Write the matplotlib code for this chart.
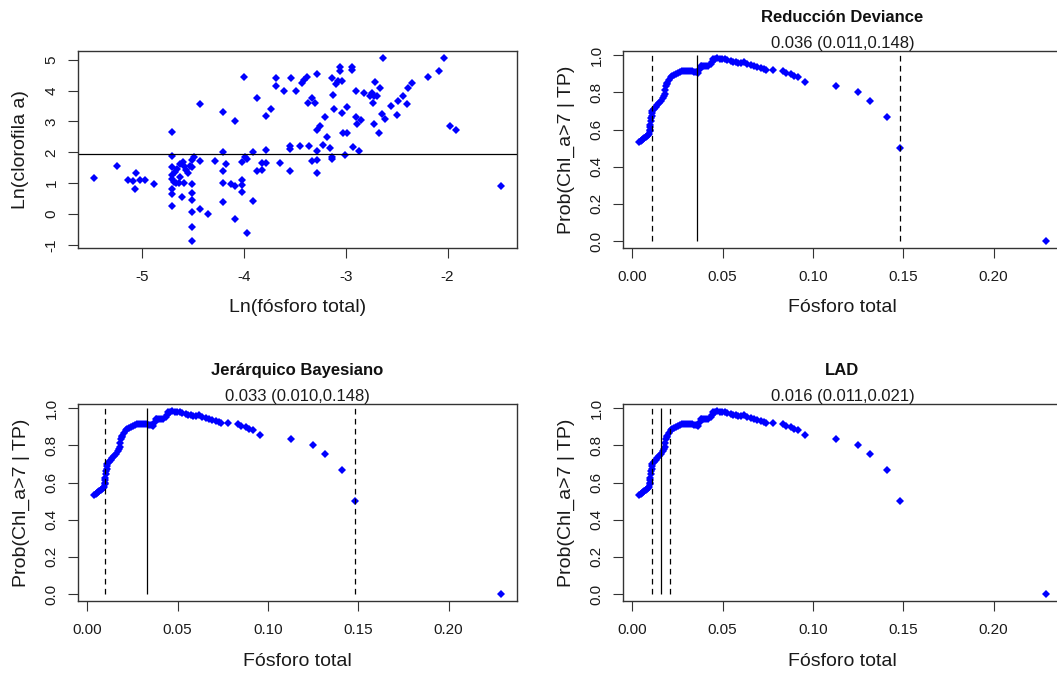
import matplotlib
matplotlib.use("Agg")
import matplotlib.pyplot as plt

plt.rcParams['font.family'] = ['Liberation Sans', 'DejaVu Sans']

# ---------------- data: scatter Ln(TP) vs Ln(chlorophyll a) ----------------
ln_tp = [-5.47, -5.25, -5.14, -5.09, -5.06, -5.07, -5.02, -4.97, -4.88,
         -4.71, -4.71, -4.71, -4.71, -4.71, -4.71, -4.71, -4.71,
         -4.69, -4.67, -4.64, -4.59, -4.68, -4.66, -4.625, -4.60, -4.59,
         -4.57, -4.55, -4.53, -4.51, -4.51, -4.49, -4.625, -4.61,
         -4.51, -4.51, -4.51, -4.51, -4.51, -4.51,
         -4.43, -4.43, -4.43, -4.35, -4.28, -4.21, -4.21, -4.21, -4.21, -4.21,
         -4.18, -4.13, -4.085, -4.085, -4.085, -4.02, -4.02, -4.02, -4.00,
         -4.02, -3.99, -3.97, -3.97, -3.915, -3.915, -3.87, -3.87, -3.82,
         -3.82, -3.78, -3.78, -3.735, -3.78, -3.68, -3.68, -3.65, -3.61,
         -3.55, -3.55, -3.55, -3.54, -3.49, -3.45, -3.43, -3.41, -3.38,
         -3.36, -3.37, -3.33, -3.30, -3.28, -3.28, -3.28, -3.33, -3.28, -3.28,
         -3.252, -3.203, -3.225, -3.18, -3.154, -3.137, -3.131, -3.137, -3.121,
         -3.111, -3.095, -3.072, -3.039, -3.056, -3.056, -3.039, -3.029, -2.990,
         -3.006, -2.983, -2.94, -2.94, -2.924, -2.898, -2.898, -2.885, -2.849,
         -2.865, -2.816, -2.761, -2.745, -2.722, -2.729, -2.722, -2.712, -2.663,
         -2.689, -2.669, -2.646, -2.63, -2.613, -2.558, -2.493, -2.483, -2.441,
         -2.395, -2.386, -2.353, -2.19, -2.082, -2.033, -1.971, -1.919, -1.477]
ln_chl = [1.18, 1.56, 1.11, 1.08, 1.34, 0.80, 1.10, 1.11, 0.97,
          2.66, 1.87, 1.53, 1.28, 1.15, 0.80, 0.645, 0.27,
          1.04, 1.01, 1.01, 1.01, 1.37, 1.47, 1.63, 1.69, 1.55,
          1.42, 1.33, 1.55, 1.53, 1.76, 1.85, 1.20, 0.56,
          0.97, 0.69, 0.45, 0.075, -0.41, -0.86,
          3.56, 1.72, 0.16, 0.00, 1.72, 3.29, 2.01, 1.39, 1.01, 0.38,
          1.62, 0.99, 3.01, 0.90, -0.16, 1.12, 0.935, 0.72, 4.43,
          1.69, 1.85, 1.80, -0.61, 0.42, 2.01, 3.76, 1.39, 1.42,
          1.66, 1.66, 3.17, 3.39, 2.075, 4.39, 4.14, 1.66, 4.00,
          1.39, 2.215, 2.10, 4.39, 3.97, 2.215, 4.25, 4.355, 4.43,
          2.215, 3.60, 3.76, 3.60, 4.52, 2.71, 2.03, 1.72, 1.76, 1.34,
          2.839, 3.14, 2.247, 2.484, 2.14, 1.849, 1.785, 4.41, 3.871,
          3.409, 4.215, 4.323, 4.30, 4.645, 4.753, 3.28, 2.624, 2.624,
          1.925, 3.462, 4.753, 4.677, 2.172, 4.00, 3.14, 2.903, 3.032,
          2.043, 3.914, 3.839, 3.914, 3.839, 3.591, 2.903, 4.269, 4.075,
          3.839, 2.635, 3.247, 5.043, 3.065, 3.484, 3.215, 3.656, 3.839,
          3.570, 4.075, 4.237, 4.452, 4.624, 5.043, 2.839, 2.731, 0.903]
chl_threshold = 1.94

# ---------------- data: probability curve P(Chl_a>7 | TP) ----------------
tp = [0.0038, 0.0045, 0.0051, 0.0058, 0.0065, 0.0073, 0.0080, 0.0087, 0.0093,
      0.0097, 0.0099, 0.0095, 0.0099, 0.0102, 0.0105, 0.0108, 0.0110, 0.0111,
      0.0120, 0.0130, 0.0139, 0.0148, 0.0157, 0.0167, 0.0174, 0.0180, 0.0182,
      0.0185, 0.0190, 0.0194, 0.0203, 0.0213, 0.0222, 0.0231, 0.0242, 0.0253,
      0.0265, 0.0277, 0.0288, 0.0299, 0.0310, 0.0320, 0.0331, 0.0342, 0.0353,
      0.0364, 0.0372, 0.0379, 0.0388, 0.0397, 0.0408, 0.0419, 0.0434, 0.0441,
      0.0449, 0.0460, 0.0471, 0.0485, 0.0498, 0.0512, 0.0526, 0.0545, 0.0558,
      0.0572, 0.0586, 0.0600, 0.0618, 0.0636, 0.0655, 0.0673, 0.0692, 0.0710,
      0.0729, 0.0738, 0.0778, 0.0832, 0.0848, 0.0880, 0.0896, 0.0915, 0.0955,
      0.1126, 0.1251, 0.1316, 0.1410, 0.1480, 0.2289]
prob = [0.535, 0.540, 0.544, 0.550, 0.555, 0.562, 0.568, 0.573, 0.577,
        0.590, 0.600, 0.612, 0.625, 0.648, 0.660, 0.672, 0.688, 0.702,
        0.713, 0.724, 0.733, 0.743, 0.756, 0.769, 0.781, 0.792, 0.815,
        0.837, 0.845, 0.851, 0.866, 0.882, 0.889, 0.896, 0.901, 0.905,
        0.910, 0.914, 0.916, 0.918, 0.916, 0.914, 0.913, 0.912, 0.909,
        0.905, 0.925, 0.941, 0.943, 0.944, 0.942, 0.941, 0.952, 0.966,
        0.980, 0.982, 0.984, 0.982, 0.980, 0.978, 0.975, 0.969, 0.965,
        0.962, 0.958, 0.957, 0.963, 0.955, 0.947, 0.942, 0.937, 0.931,
        0.925, 0.920, 0.923, 0.914, 0.906, 0.897, 0.891, 0.884, 0.859,
        0.835, 0.805, 0.753, 0.669, 0.500, 0.002]

panel_titles = ["Reducción Deviance", "Jerárquico Bayesiano", "LAD"]
panel_est = [0.036, 0.033, 0.016]
panel_lo = [0.011, 0.010, 0.011]
panel_hi = [0.148, 0.148, 0.021]

xticks_scatter = [-5, -4, -3, -2]
yticks_scatter = [-1, 0, 1, 2, 3, 4, 5]
xticks_prob = [0.00, 0.05, 0.10, 0.15, 0.20]
yticks_prob = [0.0, 0.2, 0.4, 0.6, 0.8, 1.0]

# ---------------- layout ----------------
W, H = 1057, 675
fig = plt.figure(figsize=(W / 100, H / 100), dpi=100)

AX_W, AX_H = 439, 197
positions = [(78, 51), (623, 51), (78, 404), (623, 404)]  # (left, top) pixels

BLUE = '#0000FF'
FRAME = '#333333'
MS = 3.8


def rlim(vals):
    lo, hi = min(vals), max(vals)
    d = 0.04 * (hi - lo)
    return lo - d, hi + d


def make_ax(left, top):
    ax = fig.add_axes([left / W, 1 - (top + AX_H) / H, AX_W / W, AX_H / H])
    for s in ax.spines.values():
        s.set_color(FRAME)
        s.set_linewidth(1.0)
    ax.tick_params(direction='out', length=7, width=0.8, color=FRAME,
                   labelsize=11, labelcolor='#1a1a1a')
    ax.tick_params(axis='x', pad=9.0)
    ax.tick_params(axis='y', pad=7.0, labelrotation=90)
    return ax


def labels(left, top, xlabel, ylabel):
    cx = left + AX_W / 2
    fig.text(cx / W, 1 - (top + AX_H + 60) / H, xlabel, ha='center', va='center',
             fontsize=14, color='#1a1a1a')
    fig.text((left - 57) / W, 1 - (top + AX_H / 2) / H, ylabel, ha='center',
             va='center', rotation=90, fontsize=14, color='#1a1a1a')


# ---- panel 1: scatter ----
l, t = positions[0]
ax = make_ax(l, t)
ax.plot(ln_tp, ln_chl, linestyle='none', marker='D', markersize=MS,
        color=BLUE, markeredgewidth=0)
ax.axhline(chl_threshold, color='black', linewidth=0.9)
ax.set_xlim(*rlim(ln_tp))
ax.set_ylim(*rlim(ln_chl))
ax.set_xticks(xticks_scatter)
ax.set_xticklabels([str(v) for v in xticks_scatter])
ax.set_yticks(yticks_scatter)
ax.set_yticklabels([str(v) for v in yticks_scatter], rotation=90, va='center')
labels(l, t, "Ln(fósforo total)", "Ln(clorofila a)")

# ---- panels 2-4: probability curves ----
for i in range(3):
    l, t = positions[i + 1]
    ax = make_ax(l, t)
    ax.plot(tp, prob, linestyle='none', marker='D', markersize=MS,
            color=BLUE, markeredgewidth=0)
    ax.vlines([panel_lo[i], panel_hi[i]], 0, 1, colors='black', linewidth=0.9,
              linestyles=(0, (4.5, 3.5)))
    ax.vlines([panel_est[i]], 0, 1, colors='black', linewidth=0.9)
    ax.set_xlim(*rlim(tp))
    ax.set_ylim(*rlim(prob))
    ax.set_xticks(xticks_prob)
    ax.set_xticklabels([f"{v:.2f}" for v in xticks_prob])
    ax.set_yticks(yticks_prob)
    ax.set_yticklabels([f"{v:.1f}" for v in yticks_prob], rotation=90, va='center')
    labels(l, t, "Fósforo total", "Prob(Chl_a>7 | TP)")
    cx = l + AX_W / 2
    fig.text(cx / W, 1 - (t - 33) / H, panel_titles[i], ha='center', va='center',
             fontsize=12, fontweight='bold', color='#111111')
    fig.text(cx / W, 1 - (t - 7.5) / H,
             f"{panel_est[i]:.3f} ({panel_lo[i]:.3f},{panel_hi[i]:.3f})",
             ha='center', va='center', fontsize=12, color='#1a1a1a')

fig.savefig("out.png", dpi=100, facecolor='white')
